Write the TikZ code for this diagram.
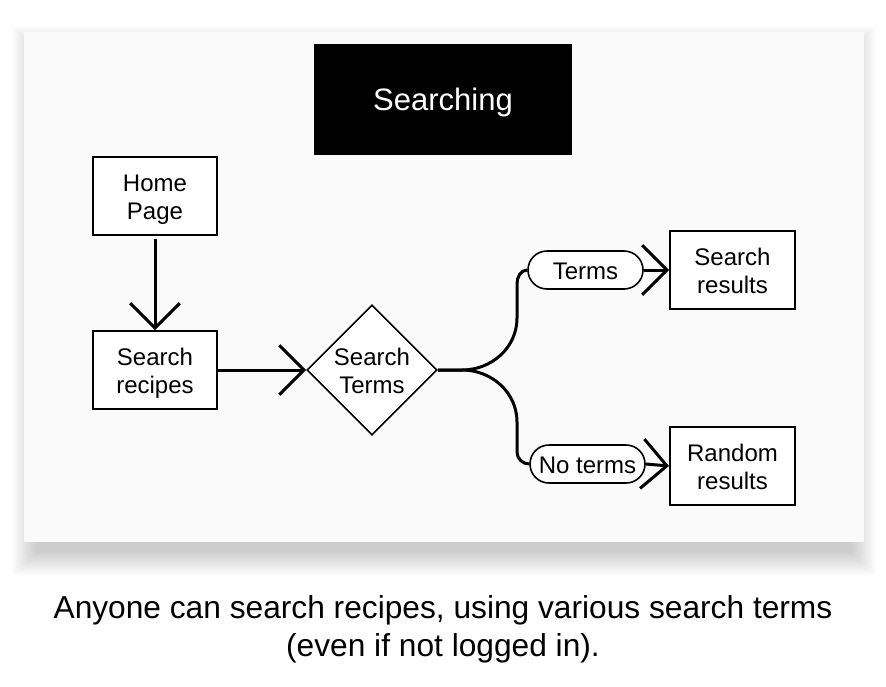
\documentclass[tikz,border=0pt]{standalone}
\usepackage{fontspec}
\setmainfont{Liberation Sans}
\usetikzlibrary{shapes.geometric,arrows.meta}
\definecolor{panel}{HTML}{FAFAFA}
\newcommand{\lnstrut}{\rule[-6pt]{0pt}{31pt}}
\newcommand{\ttlstrut}{\rule[-8pt]{0pt}{37pt}}
\tikzset{
  txt/.style={font=\fontsize{24}{28}\selectfont,execute at end node={\lnstrut}},
  box/.style={txt,draw=black,line width=2pt,fill=white,minimum width=124pt,minimum height=78pt,inner sep=0pt,align=center},
  pill/.style={txt,draw=black,line width=1.6pt,fill=white,minimum width=115pt,minimum height=38pt,rounded corners=19pt,inner sep=0pt},
  decision/.style={txt,diamond,draw=black,line width=1.6pt,fill=white,minimum width=130pt,minimum height=130pt,inner sep=-12pt,align=center},
  conn/.style={line width=3pt,-{Straight Barb[angle=90:35pt,line width=3pt]}},
  branch/.style={line width=3pt},
}
\begin{document}
\begin{tikzpicture}[x=1pt,y=-1pt]
\useasboundingbox (0,0) rectangle (886,686);
\fill[white] (0,0) rectangle (886,686);
\foreach \i in {0,...,24}{
  \fill[black,opacity=0.008] (36-\i,50-\i) rectangle (852+\i,552+\i);
}
\fill[panel] (24,32) rectangle (864,542);
\node[fill=black,text=white,minimum width=258pt,minimum height=111pt,inner sep=0pt,font=\fontsize{31}{36}\selectfont,execute at begin node={\ttlstrut}] (title) at (443,99.5) {Searching};
\node[box] (home) at (155,196) {\lnstrut Home\\Page};
\node[box] (recipes) at (155,370) {\lnstrut Search\\recipes};
\node[decision] (terms) at (372,370) {\lnstrut Search\\Terms};
\node[pill] (yes) at (585.5,270) {\lnstrut Terms};
\node[pill] (no) at (587.5,464) {\lnstrut No terms};
\node[box,minimum width=125pt] (sres) at (732.5,270) {\lnstrut Search\\results};
\node[box,minimum width=125pt] (rres) at (732.5,466) {\lnstrut Random\\results};
\draw[conn] (home.south) ++(0,3) -- (recipes.north);
\draw[conn] (recipes.east) -- (terms.west);
\coordinate (split) at (462,370);
\draw[branch] (terms.east) -- (split) to[out=0,in=-90] (517,318) -- (517,284) to[out=90,in=180] (yes.west);
\draw[branch] (terms.east) -- (split) to[out=0,in=90] (517,422) -- (517,452) to[out=-90,in=180] (no.west);
\draw[conn] (yes.east) -- (sres.west);
\draw[conn] (no.east) -- (rres.west);
\node[align=center,font=\fontsize{31.7}{38}\selectfont] (caption) at (443,629) {Anyone can search recipes, using various search terms\\(even if not logged in).};
\end{tikzpicture}
\end{document}
